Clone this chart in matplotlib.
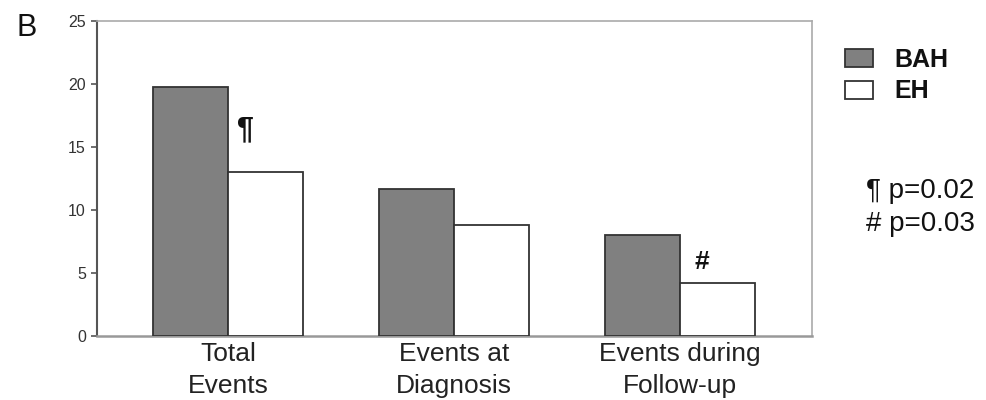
import matplotlib
matplotlib.use("Agg")
import matplotlib.pyplot as plt
import numpy as np

plt.rcParams['font.family'] = ['Liberation Sans', 'DejaVu Sans']

categories = ["Total\nEvents", "Events at\nDiagnosis", "Events during\nFollow-up"]
bah = [19.8, 11.7, 8.0]
eh = [13.0, 8.8, 4.2]
yticks = [0, 5, 10, 15, 20, 25]

fig = plt.figure(figsize=(9.86, 4.0), dpi=100)
ax = fig.add_axes([0.0984, 0.16, 0.7251, 0.7875])

x = np.arange(len(categories))
w = 0.332
ax.bar(x - w / 2, bah, width=w, color="#808080", edgecolor="#333333", linewidth=1.3, label="BAH", zorder=3)
ax.bar(x + w / 2, eh, width=w, color="white", edgecolor="#333333", linewidth=1.3, label="EH", zorder=3)

ax.set_xlim(-0.58, 2.584)
ax.set_ylim(0, 25)
ax.set_yticks(yticks)
ax.set_yticklabels([str(v) for v in yticks], fontsize=11.5, color="#333333")
ax.set_xticks(x)
ax.set_xticklabels(categories, fontsize=19, color="#222222", linespacing=1.42)
ax.tick_params(axis='x', length=0, pad=4)
ax.tick_params(axis='y', length=4, width=1.2, color="#555555", pad=4)

for s in ['top', 'right']:
    ax.spines[s].set_color("#aaaaaa")
    ax.spines[s].set_linewidth(1.2)
ax.spines['left'].set_color("#555555")
ax.spines['left'].set_linewidth(1.5)
ax.spines['bottom'].set_color("#999999")
ax.spines['bottom'].set_linewidth(1.8)

ax.text(0.075, 15.1, "¶", fontsize=22, fontweight='bold', ha='center', va='bottom', color="#111111")
ax.text(2.097, 4.9, "#", fontsize=19, fontweight='bold', ha='center', va='bottom', color="#111111")

leg = ax.legend(loc='upper left', bbox_to_anchor=(0.857, 0.88), bbox_transform=fig.transFigure,
                frameon=False, prop={'size': 18, 'weight': 'bold'},
                handlelength=1.12, handleheight=0.72, handletextpad=0.85, labelspacing=0.3,
                borderpad=0, borderaxespad=0)
for t in leg.get_texts():
    t.set_color("#111111")

fig.text(0.878, 0.505, "¶ p=0.02", fontsize=20, color="#111111", ha='left', va='baseline')
fig.text(0.878, 0.4225, "# p=0.03", fontsize=20, color="#111111", ha='left', va='baseline')

fig.text(0.017, 0.91, "B", fontsize=22, color="#111111", ha='left', va='baseline')

fig.savefig("out.png", dpi=100)
